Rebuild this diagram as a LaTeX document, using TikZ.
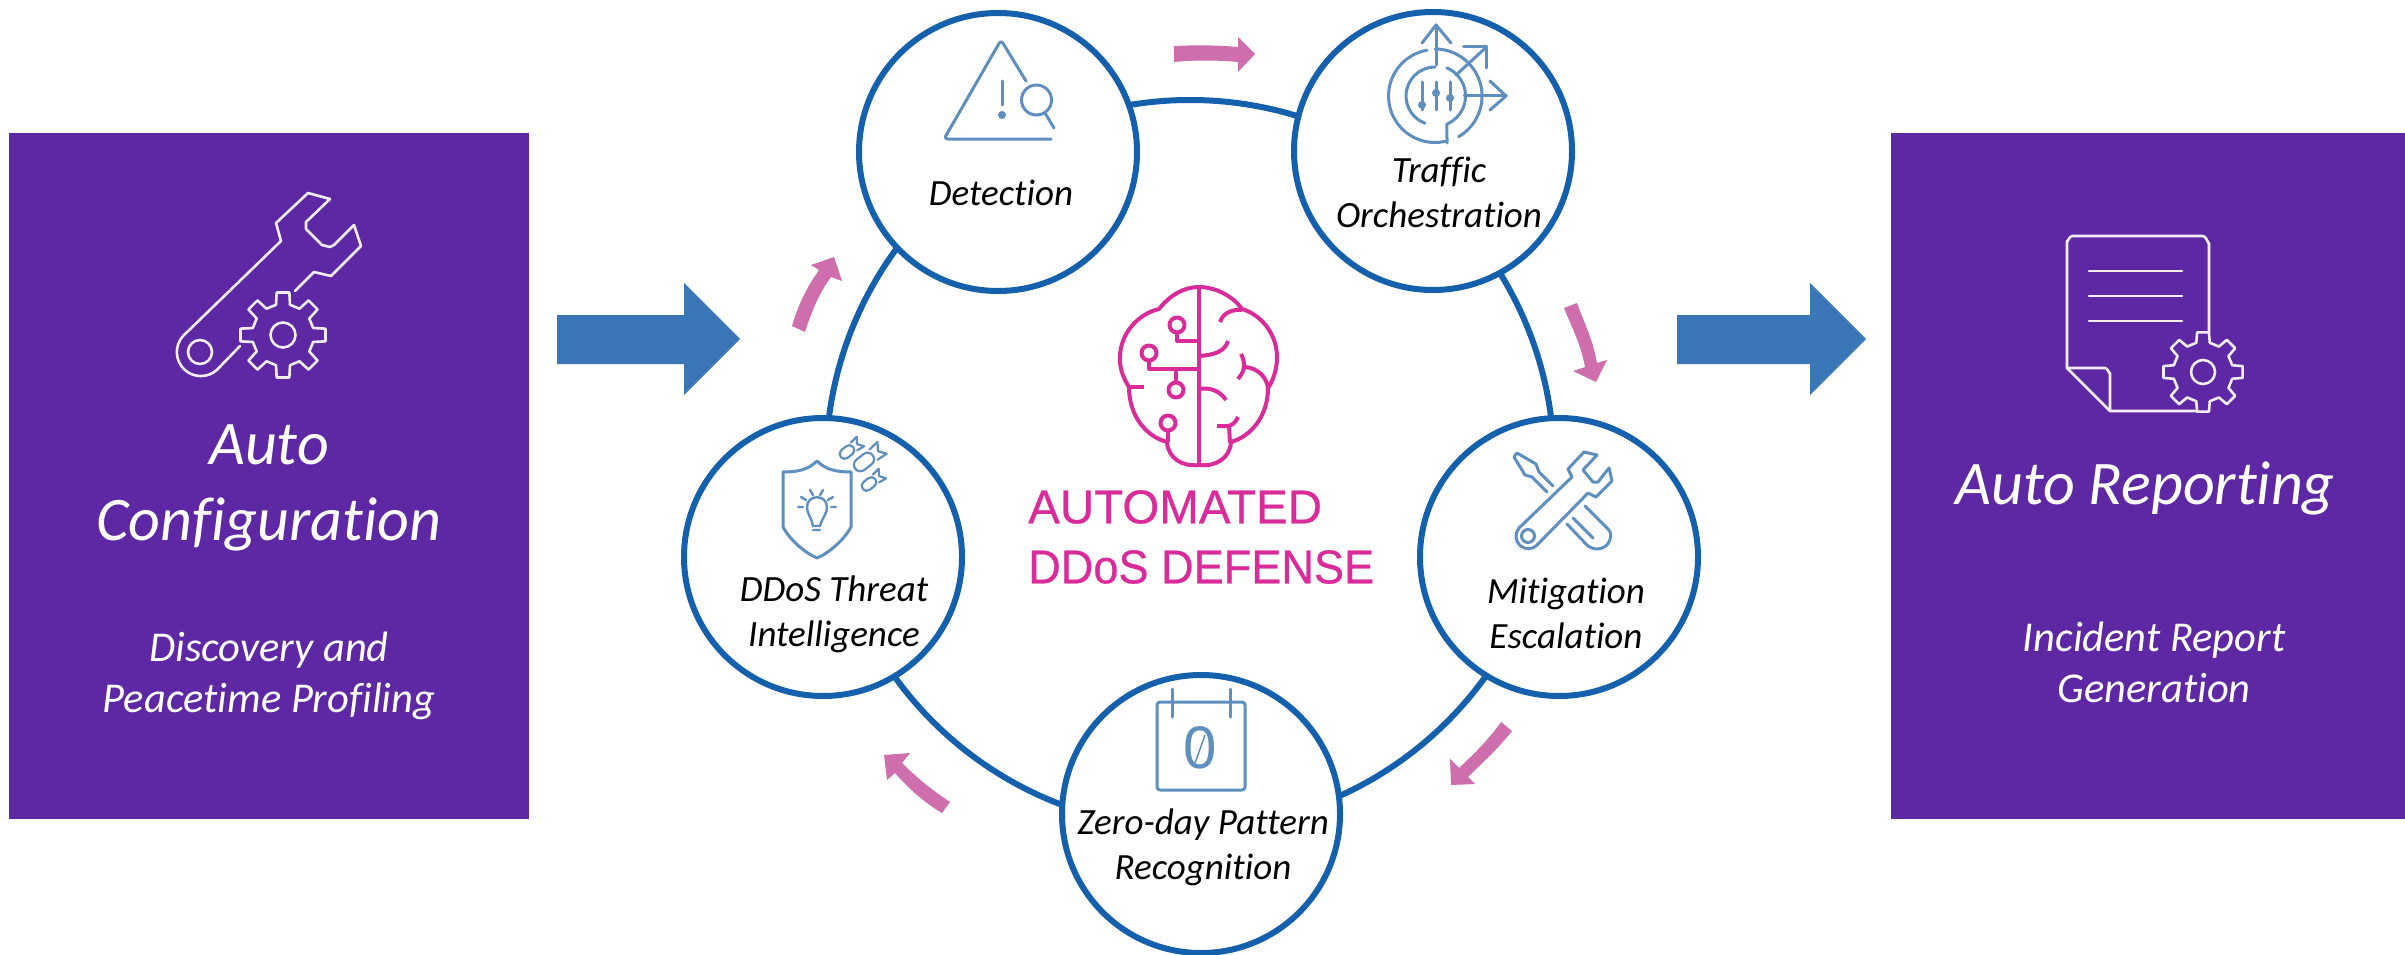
\documentclass[tikz,border=0pt]{standalone}
\usepackage{fontspec}
\setmainfont[Ligatures=NoCommon]{Carlito}
\newfontfamily\headfont[FakeBold=0.5]{Liberation Sans}
\newfontfamily\headnarrow[FakeStretch=0.95,FakeBold=0.5]{Liberation Sans}
\newfontfamily\zerofont{Liberation Sans}
\definecolor{purp}{HTML}{5E27A3}
\definecolor{ringblue}{HTML}{1560AC}
\definecolor{bigarrow}{HTML}{3B77B7}
\definecolor{pinkarrow}{HTML}{CE6EAC}
\definecolor{brainpink}{HTML}{D92B99}
\definecolor{iconblue}{HTML}{5F8FBF}
\tikzset{
  panel/.style={fill=purp,draw=none},
  bubble/.style={circle,draw=ringblue,line width=6pt,fill=white,minimum size=278pt,inner sep=0pt},
  lbl/.style={font=\fontsize{37}{45}\selectfont\itshape,align=center,inner sep=0pt,text=black},
  bigtxt/.style={font=\fontsize{62}{76}\selectfont\itshape,align=center,inner sep=0pt,text=white},
  subtxt/.style={font=\fontsize{42.5}{51}\selectfont\itshape,align=center,inner sep=0pt,text=white},
  headtxt/.style={font=\fontsize{47.5}{60}\selectfont,align=left,inner sep=0pt,text=brainpink},
  iconw/.style={draw=white!92!purp,line width=2.6pt,line join=round,line cap=round},
  iconb/.style={draw=iconblue,line width=3pt,line join=round,line cap=round},
  brain/.style={draw=brainpink,line width=4pt,line join=round},
  bigarr/.style={fill=bigarrow,draw=none},
  pinkarr/.style={fill=pinkarrow,draw=none},
}
\newcommand{\gearshape}[5]{% x y R r hole
  \draw[iconw,shift={(#1,#2)}] (-13:#4pt) \foreach \a in {0,45,...,315} { -- (\a-13:#4pt) -- (\a-8.5:#3pt) -- (\a+8.5:#3pt) -- (\a+13:#4pt) } -- cycle;
  \draw[iconw] (#1,#2) circle[radius=#5];
}
\newcommand{\missile}[4]{% x y halflength halfwidth
  \draw[iconb,line width=2.2pt,shift={(#1,#2)},rotate=38,rounded corners=#4pt] (-#3pt,-#4pt) rectangle (#3pt,#4pt);
  \draw[iconb,line width=2.2pt,shift={(#1,#2)},rotate=38] (#3pt+1pt,-#4pt) -- (2*#3pt+1pt,-#4pt-1pt) -- (1.6*#3pt,0pt) -- (2*#3pt+1pt,#4pt+1pt) -- (#3pt+1pt,#4pt);
}
\begin{document}
\begin{tikzpicture}[x=1pt,y=-1pt]
\useasboundingbox (0,0) rectangle (2405,955);
% panels
\fill[panel] (9,133) rectangle (529,819);
\fill[panel] (1891,133) rectangle (2405,819);
% big arrows
\fill[bigarr] (557,315) -- (684,315) -- (684,283) -- (740,339) -- (684,395) -- (684,364) -- (557,364) -- cycle;
\fill[bigarr] (1677,315) -- (1810,315) -- (1810,283) -- (1866,339) -- (1810,395) -- (1810,364) -- (1677,364) -- cycle;
% ring and bubbles
\node[circle,draw=ringblue,line width=6pt,minimum size=728pt,inner sep=0pt] (ring) at (1190,464) {};
\node[bubble] (det) at (998,152) {};
\node[bubble] (traf) at (1433,151) {};
\node[bubble] (miti) at (1559,557) {};
\node[bubble] (zero) at (1201,814) {};
\node[bubble] (ddos) at (823,557) {};
% bubble labels
\node[lbl] (ldet) at (1001,193) {Detection};
\node[lbl] (ltraf) at (1439,192) {Traffic\\Orchestration};
\node[lbl] (lmiti) at (1566,613) {Mitigation\\Escalation};
\node[lbl] (lddos) at (834,614) {DDoS Threat\\Intelligence};
\node[lbl] (lzero) at (1203,847) {Zero-day Pattern\\Recognition};
% panel text
\node[bigtxt] (tcfg) at (269,488) {Auto\\Configuration};
\node[subtxt] (scfg) at (269,676) {Discovery and\\Peacetime Profiling};
\node[bigtxt] (trep) at (2145,488) {Auto Reporting};
\node[subtxt] (srep) at (2154,662) {Incident Report\\Generation};
\node[headtxt,anchor=west] (thead) at (1028,537) {{\headfont AUTOMATED}\\{\headnarrow DDoS DEFENSE}};
% pink arrows
\fill[pinkarr] (1174,46) .. controls (1195,45) and (1215,45) .. (1238,47) -- (1238,37) -- (1255,54) -- (1238,72) -- (1238,62) .. controls (1215,60) and (1195,60) .. (1174,62) -- cycle;
\fill[pinkarr] (1564,308) -- (1577,303) .. controls (1585,325) and (1593,340) .. (1597,363) -- (1607,360) -- (1596,382) -- (1573,371) -- (1585,367) .. controls (1581,345) and (1573,330) .. cycle;
\fill[pinkarr] (1501,722) -- (1512,731) .. controls (1497,750) and (1482,763) .. (1468,777) -- (1475,784) -- (1451,785) -- (1450,759) -- (1459,768) .. controls (1475,753) and (1490,738) .. cycle;
\fill[pinkarr] (950,802) -- (942,813) .. controls (925,803) and (910,790) .. (895,773) -- (887,780) -- (884,755) -- (910,753) -- (902,763) .. controls (917,778) and (932,790) .. cycle;
\fill[pinkarr] (792,326) -- (805,332) .. controls (812,310) and (820,292) .. (831,277) -- (842,281) -- (834,257) -- (811,265) -- (819,270) .. controls (807,287) and (798,305) .. cycle;
% left icon: wrench and gear
\draw[iconw] (295,291) -- (314,272) -- (331,276) -- (361,246) -- (354,225) -- (334,245) -- (330,247) -- (322,245) -- (306,229) -- (306,222) -- (330,199) -- (308,193) -- (276,223) -- (281,241) -- (183,336) arc[start angle=222,end angle=48,radius=24] -- (240,346);
\draw[iconw] (200,352) circle[radius=12];
\gearshape{283}{335}{43}{31}{12.5}
% right icon: page and gear
\draw[iconw] (2197,411) -- (2110,411) -- (2067,368) -- (2067,241) to[out=-90,in=180] (2072,236) -- (2203,236) to[out=0,in=-90] (2209,243) -- (2209,332);
\draw[iconw] (2067,368) -- (2105,368) to[out=0,in=-90] (2110,373) -- (2110,411);
\draw[iconw] (2089,271) -- (2182,271) (2089,296) -- (2182,296) (2089,321) -- (2182,321);
\gearshape{2203}{372}{40}{30}{12}
% detection icon
\draw[iconb,rounded corners=3.5pt] (1026,81) -- (1001,40) -- (944,139) -- (1051,139);
\draw[iconb] (1002,81) -- (1002,105);
\fill[iconblue] (1002,115) circle[radius=4];
\draw[iconb] (1036.5,100) circle[radius=15];
\draw[iconb] (1045,113) -- (1054,128);
% traffic icon
\draw[iconb] (1435,96)++(260:46.5) arc[start angle=260,end angle=76,radius=46.5];
\draw[iconb] (1435,96)++(270:29) arc[start angle=270,end angle=110,radius=29];
\draw[iconb] (1435,96)++(-90:47) arc[start angle=-90,end angle=60,radius=47];
\draw[iconb] (1435,96)++(-67:30.5) arc[start angle=-67,end angle=67,radius=30.5] -- (1447,143);
\draw[iconb] (1436,65) -- (1436,25);
\draw[iconb] (1422,43) -- (1436,25) -- (1451,43);
\draw[iconb] (1456,75) -- (1486.5,47);
\draw[iconb] (1463.5,47) -- (1486.5,47) -- (1486.5,68);
\draw[iconb] (1464,96) -- (1506,96);
\draw[iconb] (1490,81) -- (1506,96) -- (1490,110);
\draw[iconb] (1422,82) -- (1422,110) (1436,82) -- (1436,110) (1450,82) -- (1450,110);
\fill[iconblue] (1422,105) circle[radius=4] (1436,93) circle[radius=4] (1450,98) circle[radius=4];
% mitigation icon
\draw[iconb] (1537,545) -- (1588,493) -- (1596,497) -- (1612,481) -- (1609,468) -- (1598,482) -- (1593,482) -- (1583,470) -- (1597,455) -- (1584,452) -- (1568,469) -- (1572,477) -- (1519,528) arc[start angle=221,end angle=45,radius=12.5];
\draw[iconb] (1528,536) circle[radius=6.5];
\draw[iconb] (1547,492) -- (1532,477) -- (1525,475) -- (1514,457) -- (1517,453) -- (1536,464) -- (1539,472) -- (1553,486);
\draw[iconb] (1567,524) -- (1585,543) .. controls (1592,552) and (1605,550) .. (1609,542) .. controls (1612,536) and (1611,531) .. (1607,528) -- (1585,506);
\draw[iconb] (1573,518) -- (1593,538);
% ddos icon
\draw[iconb] (817,461) .. controls (808,470) and (797,472) .. (783,472) -- (783,527) .. controls (790,540) and (805,553) .. (817,558) .. controls (829,553) and (844,540) .. (851,527) -- (851,472) .. controls (837,472) and (826,470) .. (817,461);
\draw[iconb,line width=2.4pt] (813,526) .. controls (811,516) and (807,514) .. (807,507) .. controls (807,494) and (827,494) .. (827,507) .. controls (827,514) and (823,516) .. (820,526) -- cycle;
\draw[iconb,line width=2.4pt] (813,530) -- (820,530) (798,507) -- (803,507) (831,507) -- (836,507) (801,497) -- (806,500) (833,497) -- (828,500) (810,490) -- (813,495) (823,490) -- (820,495);
\missile{864}{462}{11}{6.5}
\missile{847}{452}{8}{5}
\missile{869}{484}{8}{5}
% calendar icon
\draw[iconb,rounded corners=3pt] (1157,702) rectangle (1245,790);
\draw[iconb] (1172,689) -- (1172,717) (1230,689) -- (1230,717);
\node[inner sep=0pt,text=iconblue,font=\zerofont\fontsize{60}{60}\selectfont] (zeroglyph) at (1200,748) {0};
\draw[iconblue,line width=1.5pt] (1195,763) -- (1205,735);
% brain icon
\draw[brain] (1199,287) -- (1199,465);
\draw[brain] (1129,387) .. controls (1118,370) and (1120,357) .. (1120,357) .. controls (1120,335) and (1137,314) .. (1159,309) .. controls (1170,295) and (1184,287) .. (1199,287) .. controls (1214,287) and (1232,295) .. (1242,309) .. controls (1262,315) and (1277,335) .. (1277,357) .. controls (1277,368) and (1274,379) .. (1268,388);
\draw[brain] (1129,387) .. controls (1129,415) and (1145,436) .. (1167,442);
\draw[brain] (1268,388) .. controls (1268,415) and (1252,436) .. (1231,442);
\draw[brain] (1167,442) .. controls (1168,458) and (1182,467) .. (1199,465) .. controls (1216,467) and (1230,458) .. (1231,442);
\draw[brain] (1177,333) -- (1177,341) -- (1199,341);
\draw[brain] (1149,361) -- (1149,369) -- (1199,369);
\draw[brain] (1176,382) -- (1176,369);
\draw[brain] (1168,431) -- (1168,442);
\draw[brain] (1177,325) circle[radius=7.5] (1149,353) circle[radius=7.5] (1176,390) circle[radius=7.5] (1168,423) circle[radius=7.5];
\draw[brain] (1129,387) -- (1144,387);
\draw[brain] (1220,322) .. controls (1223,313) and (1232,309) .. (1242,310);
\draw[brain] (1199,356) .. controls (1215,355) and (1225,351) .. (1228,341);
\draw[brain] (1241,354) .. controls (1245,362) and (1246,370) .. (1238,379);
\draw[brain] (1245,367) .. controls (1258,368) and (1268,378) .. (1268,390);
\draw[brain] (1199,389) .. controls (1210,387) and (1220,391) .. (1226,400);
\draw[brain] (1217,426) -- (1227,426) .. controls (1232,426) and (1236,422) .. (1238,417);
\draw[brain] (1229,426) -- (1230,443);
\end{tikzpicture}
\end{document}
